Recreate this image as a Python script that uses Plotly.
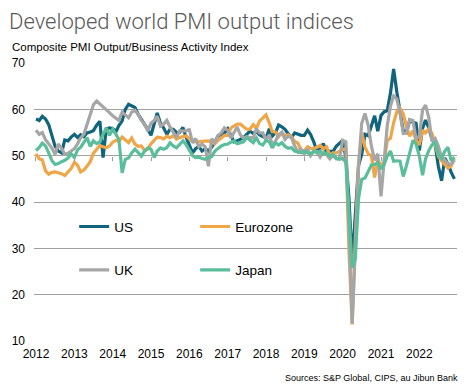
import pandas as pd
import plotly.graph_objects as go

months = pd.date_range("2012-01-01", periods=132, freq="MS")
year_ticks = [f"{y}-01-01" for y in range(2012, 2023)]
year_labels = [str(y) for y in range(2012, 2023)]

us = [57.9, 57.6, 58.5, 57.9, 56.7, 54.5, 52.0, 51.0, 50.6, 53.4, 53.2, 54.0,
      54.6, 53.9, 54.5, 54.1, 54.9, 55.1, 55.4, 56.6, 57.4, 49.6, 55.8, 56.0,
      55.8, 55.2, 56.5, 57.5, 60.0, 61.1, 60.7, 60.4, 58.9, 57.9, 56.6, 55.7,
      54.4, 57.2, 59.2, 57.0, 56.0, 54.6, 55.7, 55.7, 55.0, 55.0, 56.1, 54.0,
      52.4, 50.6, 51.5, 52.0, 51.0, 51.5, 51.0, 51.8, 53.0, 54.2, 54.6, 54.9,
      55.8, 54.1, 53.0, 53.2, 53.6, 53.9, 54.6, 55.3, 54.8, 55.2, 54.5, 54.1,
      53.8, 55.8, 54.2, 54.9, 56.6, 56.2, 55.7, 54.7, 53.9, 54.9, 54.7, 54.4,
      54.4, 55.5, 54.6, 53.0, 50.9, 51.5, 52.6, 50.7, 51.0, 50.9, 52.0, 52.7,
      53.3, 49.6, 40.9, 27.0, 37.0, 47.9, 50.3, 54.6, 54.3, 56.3, 58.6, 55.3,
      58.7, 59.5, 59.7, 63.5, 68.7, 63.7, 59.9, 55.4, 55.0, 57.6, 57.2, 57.0,
      51.1, 55.9, 57.7, 56.0, 53.6, 52.3, 47.7, 44.6, 49.5, 48.2, 46.4, 45.0]

eurozone = [50.4, 49.3, 49.1, 46.7, 46.0, 46.4, 46.5, 46.3, 46.1, 45.7, 46.5, 47.2,
            48.6, 47.9, 46.5, 46.9, 47.7, 48.7, 50.5, 51.5, 52.2, 51.9, 51.7, 52.1,
            52.9, 53.3, 53.1, 54.0, 53.5, 52.8, 53.8, 52.5, 52.0, 52.1, 51.1, 51.4,
            52.6, 53.3, 54.0, 53.9, 53.6, 54.2, 53.9, 54.3, 53.6, 53.9, 54.2, 54.3,
            53.6, 53.0, 53.1, 53.0, 53.1, 53.1, 53.2, 52.9, 52.6, 53.3, 53.9, 54.4,
            54.4, 56.0, 56.4, 56.8, 56.8, 56.3, 55.7, 55.7, 56.7, 55.9, 57.5, 58.1,
            58.8, 57.1, 55.2, 55.1, 54.1, 54.9, 54.3, 54.5, 54.1, 53.1, 52.7, 51.1,
            51.0, 51.9, 51.6, 51.5, 51.8, 52.2, 51.5, 51.9, 50.1, 50.6, 50.6, 50.9,
            51.3, 51.6, 29.7, 13.6, 31.9, 48.5, 54.9, 51.9, 50.4, 50.0, 45.3, 49.1,
            47.8, 48.8, 53.2, 53.8, 57.1, 59.5, 60.2, 59.0, 56.2, 54.2, 55.4, 53.3,
            52.3, 55.5, 54.9, 55.8, 54.8, 52.0, 49.9, 48.9, 48.1, 47.3, 47.8, 49.3]

uk = [55.5, 54.6, 55.0, 53.4, 52.6, 51.6, 50.3, 52.5, 51.6, 50.3, 50.5, 51.0,
      51.5, 52.6, 53.8, 54.6, 56.6, 59.0, 61.0, 61.8, 61.2, 60.6, 60.0, 59.3,
      58.6, 58.0, 57.6, 59.4, 58.7, 58.2, 59.4, 59.8, 58.9, 57.6, 56.8, 55.3,
      57.0, 57.6, 58.5, 56.4, 56.8, 57.6, 56.2, 55.0, 53.9, 55.4, 55.3, 55.4,
      55.6, 52.8, 53.7, 51.9, 52.5, 51.9, 47.7, 53.6, 52.9, 54.4, 54.9, 56.0,
      55.5, 53.8, 54.9, 56.2, 54.5, 53.8, 54.1, 54.0, 53.8, 55.8, 54.9, 54.9,
      53.4, 54.5, 52.4, 53.1, 54.5, 55.1, 53.5, 54.2, 53.9, 52.1, 50.8, 51.4,
      50.3, 51.5, 50.0, 50.9, 50.9, 49.7, 50.7, 50.2, 49.3, 50.0, 49.3, 49.3,
      53.3, 53.0, 36.0, 13.8, 30.0, 47.7, 57.0, 59.1, 56.5, 52.1, 49.0, 50.4,
      41.2, 49.6, 56.4, 60.7, 62.9, 62.2, 59.2, 54.8, 54.9, 57.8, 57.6, 53.6,
      54.2, 59.9, 60.9, 58.2, 53.1, 53.7, 52.1, 49.6, 49.1, 48.2, 48.2, 49.0]

japan = [51.1, 51.8, 52.7, 52.1, 50.6, 48.9, 48.1, 48.3, 48.7, 49.0, 49.5, 50.4,
         49.6, 51.3, 51.8, 52.8, 53.9, 52.0, 53.2, 52.6, 53.0, 54.6, 56.0, 54.4,
         55.7, 54.6, 53.5, 46.3, 49.2, 49.5, 50.6, 51.4, 50.6, 49.9, 51.0, 51.7,
         51.4, 49.6, 51.0, 51.7, 51.4, 51.7, 52.8, 52.1, 51.7, 52.4, 53.2, 52.4,
         51.3, 50.0, 49.6, 49.7, 49.4, 49.2, 49.6, 49.8, 51.0, 51.6, 52.1, 52.4,
         52.5, 52.9, 53.2, 52.6, 52.8, 53.0, 53.9, 53.4, 52.8, 53.8, 52.6, 52.3,
         53.3, 53.0, 51.7, 52.8, 52.3, 52.8, 52.0, 51.6, 51.7, 51.0, 50.8, 50.6,
         51.0, 50.6, 50.3, 51.0, 50.6, 51.0, 50.3, 50.6, 49.9, 50.3, 49.5, 49.2,
         49.5, 48.6, 36.2, 25.8, 27.8, 40.8, 44.9, 45.2, 46.6, 48.0, 48.1, 48.5,
         47.1, 48.2, 49.9, 51.0, 48.8, 48.9, 48.8, 45.5, 47.9, 50.7, 53.3, 52.5,
         49.9, 45.8, 49.3, 51.1, 52.3, 53.0, 50.2, 49.4, 51.0, 51.8, 48.9, 49.7]

series = [("US", us, "#10647D", "legend"),
          ("Eurozone", eurozone, "#F0A546", "legend"),
          ("UK", uk, "#A6A6A6", "legend2"),
          ("Japan", japan, "#5ABE9B", "legend2")]

ARIAL = "Liberation Sans, Arial, sans-serif"

fig = go.Figure()
for name, vals, col, lg in series:
    fig.add_trace(go.Scatter(x=months, y=vals, name=name, mode="lines",
                             line=dict(color=col, width=3.2), legend=lg,
                             hoverinfo="skip"))
# helper trace so the tick-mark axis at 50 is drawn
fig.add_trace(go.Scatter(x=[months[0]], y=[None], xaxis="x2", showlegend=False,
                         hoverinfo="skip", mode="lines"))

xr = ["2011-12-13", "2022-12-26"]
fig.update_layout(
    width=469, height=392,
    margin=dict(l=31, r=12, t=63, b=51),
    paper_bgcolor="white", plot_bgcolor="white",
    showlegend=True,
    xaxis=dict(range=xr, tickvals=year_ticks, ticktext=year_labels,
               showgrid=False, zeroline=False, showline=False, ticks="",
               tickfont=dict(family=ARIAL, size=12, color="black"),
               ticklabelstandoff=4),
    xaxis2=dict(overlaying="x", matches="x", anchor="free",
                position=(50 - 10) / 60, side="bottom",
                tickvals=year_ticks, showticklabels=False, ticks="outside",
                ticklen=4, tickcolor="#9A9A9A", tickwidth=1,
                showgrid=False, zeroline=False, showline=False),
    yaxis=dict(range=[10, 70], tickvals=[10, 20, 30, 40, 50, 60, 70],
               showgrid=True, gridcolor="#A0A0A0", gridwidth=1,
               zeroline=False, showline=False, ticks="",
               tickfont=dict(family=ARIAL, size=12, color="black"),
               ticklabelstandoff=8),
    legend=dict(orientation="h", x=0.095, y=0.411, xanchor="left", yanchor="middle",
                font=dict(family=ARIAL, size=13.5, color="black"),
                bgcolor="rgba(0,0,0,0)", entrywidth=76, entrywidthmode="pixels",
                itemclick=False, itemdoubleclick=False),
    legend2=dict(orientation="h", x=0.095, y=0.255, xanchor="left", yanchor="middle",
                 font=dict(family=ARIAL, size=13.5, color="black"),
                 bgcolor="rgba(0,0,0,0)", entrywidth=76, entrywidthmode="pixels",
                 itemclick=False, itemdoubleclick=False),
    annotations=[
        dict(text="Developed world PMI output indices", xref="paper", yref="paper",
             x=(4 - 31) / 426, y=(341 - 21) / 278, xanchor="left", yanchor="middle",
             showarrow=False,
             font=dict(family="Roboto", size=22, color="#595959", weight=300)),
        dict(text="Composite PMI Output/Business Activity Index", xref="paper",
             yref="paper", x=(7 - 31) / 426, y=(341 - 47) / 278, xanchor="left",
             yanchor="middle", showarrow=False,
             font=dict(family=ARIAL, size=11.5, color="black")),
        dict(text="Sources: S&P Global, CIPS, au Jibun Bank", xref="paper",
             yref="paper", x=(460 - 31) / 426, y=(341 - 378) / 278, xanchor="right",
             yanchor="middle", showarrow=False,
             font=dict(family=ARIAL, size=9, color="black")),
    ],
)

fig.write_html("out.html", config={"displayModeBar": False},
               post_script="document.body.style.margin='0';document.body.style.overflow='hidden';")
